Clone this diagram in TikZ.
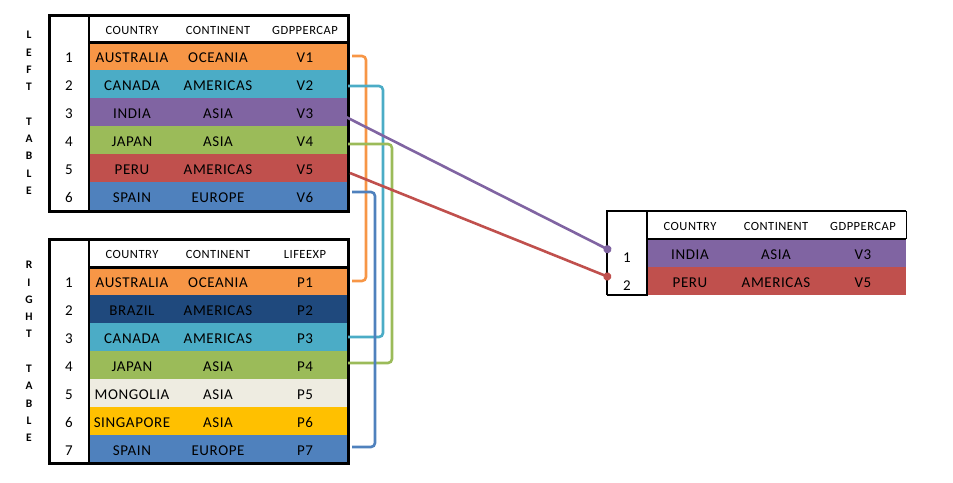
\documentclass[tikz,border=0pt]{standalone}
\usepackage{fontspec}
\setmainfont{Carlito}
\newfontfamily\cellfont[LetterSpace=4]{Carlito}
\usetikzlibrary{arrows.meta}

\definecolor{cOrange}{HTML}{F79646}
\definecolor{cAqua}{HTML}{4BACC6}
\definecolor{cPurple}{HTML}{8064A2}
\definecolor{cGreen}{HTML}{9BBB59}
\definecolor{cRed}{HTML}{C0504D}
\definecolor{cBlue}{HTML}{4F81BD}
\definecolor{cNavy}{HTML}{1F497D}
\definecolor{cSand}{HTML}{EEECE1}
\definecolor{cGold}{HTML}{FFC000}

\tikzset{
  rowfill/.style={rectangle, minimum width=259pt, minimum height=28pt, inner sep=0pt, outer sep=0pt},
  cell/.style={inner sep=0pt, yshift=-1.5pt, font=\cellfont\fontsize{15}{18}\selectfont},
  head/.style={inner sep=0pt, yshift=-1.5pt, font=\cellfont\fontsize{12.5}{14}\selectfont},
  idx/.style={inner sep=0pt, minimum width=40pt, yshift=-1.5pt, font=\fontsize{15}{18}\selectfont},
  frame/.style={line width=3pt},
  thinframe/.style={line width=2pt},
  link/.style={line width=2.6pt, rounded corners=4pt},
  vtitle/.style={align=center, inner sep=0pt, font=\bfseries\fontsize{11.5}{17.3}\selectfont},
}

% one coloured data row: name, y, colour, index, country, continent, value
\newcommand\datarow[7]{%
  \node[rowfill, fill=#3] (#1) at (218.5,#2) {};
  \node[cell] (#1-c) at (132,#2) {#5};
  \node[cell] (#1-k) at (218,#2) {#6};
  \node[cell] (#1-v) at (305,#2) {#7};
  \node[idx] (#1-i) at (69,#2) {#4};
}
% header row: name, y, third column title
\newcommand\headrow[3]{%
  \node[head] (#1-c) at (132,#2) {COUNTRY};
  \node[head] (#1-k) at (218,#2) {CONTINENT};
  \node[head] (#1-v) at (305,#2) {#3};
}

\begin{document}
\begin{tikzpicture}[x=1pt, y=-1pt]
\useasboundingbox (0,0) rectangle (953,482);

% vertical titles
\node[vtitle] (lefttitle) at (29,113) {L\\E\\F\\T\\~\\T\\A\\B\\L\\E};
\node[vtitle] (righttitle) at (29,351.5) {R\\I\\G\\H\\T\\~\\T\\A\\B\\L\\E};

% left table
\headrow{LH}{29}{GDPPERCAP}
\datarow{L1}{56}{cOrange}{1}{AUSTRALIA}{OCEANIA}{V1}
\datarow{L2}{84}{cAqua}{2}{CANADA}{AMERICAS}{V2}
\datarow{L3}{112}{cPurple}{3}{INDIA}{ASIA}{V3}
\datarow{L4}{140}{cGreen}{4}{JAPAN}{ASIA}{V4}
\datarow{L5}{168}{cRed}{5}{PERU}{AMERICAS}{V5}
\datarow{L6}{196}{cBlue}{6}{SPAIN}{EUROPE}{V6}
\draw[frame] (49,15) rectangle (348,211);
\draw[thinframe] (89,15) -- (89,211);
\draw[frame] (89,42) -- (348,42);

% right table
\headrow{RH}{253}{LIFEEXP}
\datarow{R1}{281}{cOrange}{1}{AUSTRALIA}{OCEANIA}{P1}
\datarow{R2}{309}{cNavy}{2}{BRAZIL}{AMERICAS}{P2}
\datarow{R3}{337}{cAqua}{3}{CANADA}{AMERICAS}{P3}
\datarow{R4}{365}{cGreen}{4}{JAPAN}{ASIA}{P4}
\datarow{R5}{393}{cSand}{5}{MONGOLIA}{ASIA}{P5}
\datarow{R6}{421}{cGold}{6}{SINGAPORE}{ASIA}{P6}
\datarow{R7}{449}{cBlue}{7}{SPAIN}{EUROPE}{P7}
\draw[frame] (49,239) rectangle (348,463);
\draw[thinframe] (89,239) -- (89,463);
\draw[frame] (89,267) -- (348,267);

% joined result table
\begin{scope}[shift={(558,0)}, idx/.append style={yshift=-3pt}]
  \headrow{XH}{225}{GDPPERCAP}
  \datarow{X1}{253}{cPurple}{1}{INDIA}{ASIA}{V3}
  \datarow{X2}{281}{cRed}{2}{PERU}{AMERICAS}{V5}
  \draw[thinframe] (49,295) -- (49,211) -- (348,211);
  \draw[thinframe] (49,295) -- (89,295) -- (89,211);
  \draw[thinframe] (89,239) -- (348,239);
  \draw[line width=1pt] (348,211) -- (348,239);
\end{scope}

% matching rows between the two input tables
\draw[link, cOrange] ([xshift=4pt]L1.east) -- ++(14,0) |- ([xshift=4pt]R1.east);
\draw[link, cAqua] ([yshift=-2pt]L2.east) -- ++(35,0) |- (R3.east);
\draw[link, cGreen] ([yshift=-4pt]L4.east) -- ++(44,0) |- ([yshift=2pt]R4.east);
\draw[link, cBlue] ([xshift=4pt,yshift=4pt]L6.east) -- ++(23,0) |- ([xshift=4pt,yshift=2pt]R7.east);

% rows carried into the result
\draw[line width=2.6pt, cPurple, -{Circle[length=8pt]}] ([xshift=-2pt,yshift=-5pt]L3.east) -- ([xshift=-36pt,yshift=2pt]X1.west);
\draw[line width=2.6pt, cRed, -{Circle[length=8pt]}] ([xshift=2pt,yshift=-5pt]L5.east) -- ([xshift=-36pt,yshift=3pt]X2.west);
\end{tikzpicture}
\end{document}
